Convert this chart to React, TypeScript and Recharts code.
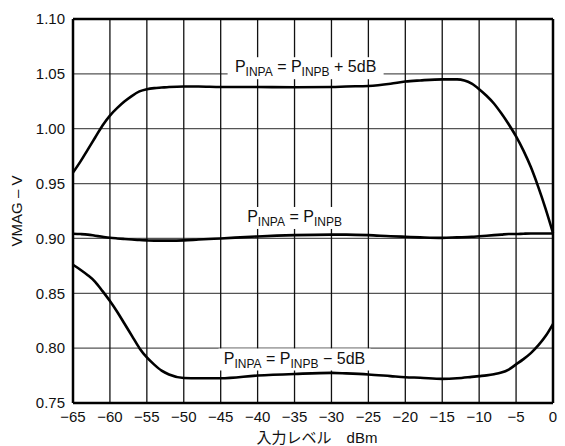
import React from 'react';
import {
  LineChart,
  Line,
  XAxis,
  YAxis,
  CartesianGrid,
  ReferenceLine,
  ReferenceDot,
  Label,
} from 'recharts';

// input level, dBm
const levels = [
  -65, -64, -63, -62, -61, -60, -59, -58, -57, -56, -55, -54, -53, -52, -50, -48, -45, -40, -35, -30,
  -28, -25, -22, -20, -18, -15, -13, -11, -10, -9, -8, -7, -6, -5, -4, -3, -2, -1, 0,
];

// VMAG, V
const vmagPlus5 = [
  0.96, 0.97, 0.981, 0.992, 1.003, 1.012, 1.019, 1.025, 1.03, 1.034, 1.036, 1.037, 1.0375, 1.038,
  1.0385, 1.0385, 1.038, 1.038, 1.0378, 1.038, 1.0385, 1.039, 1.041, 1.043, 1.044, 1.045, 1.045,
  1.041, 1.036, 1.03, 1.023, 1.014, 1.004, 0.993, 0.98, 0.965, 0.947, 0.927, 0.905,
];
const vmagEqual = [
  0.9043, 0.904, 0.9035, 0.9025, 0.9015, 0.9006, 0.9, 0.8995, 0.899, 0.8985, 0.8982, 0.898, 0.898,
  0.898, 0.8982, 0.899, 0.9, 0.9018, 0.903, 0.9035, 0.9035, 0.903, 0.902, 0.9015, 0.901, 0.9005,
  0.901, 0.9015, 0.902, 0.9025, 0.903, 0.9035, 0.904, 0.904, 0.9043, 0.9045, 0.9045, 0.9045, 0.9045,
];
const vmagMinus5 = [
  0.876, 0.8715, 0.8665, 0.8605, 0.852, 0.843, 0.833, 0.822, 0.811, 0.8, 0.7915, 0.785, 0.7795,
  0.776, 0.7728, 0.7725, 0.7725, 0.775, 0.7765, 0.7775, 0.777, 0.776, 0.7745, 0.7735, 0.773, 0.772,
  0.7725, 0.7738, 0.7745, 0.7752, 0.7762, 0.7777, 0.7805, 0.7852, 0.79, 0.7955, 0.8025, 0.811, 0.822,
];

const xTicks = [-65, -60, -55, -50, -45, -40, -35, -30, -25, -20, -15, -10, -5, 0];
const yTicks = [0.75, 0.8, 0.85, 0.9, 0.95, 1.0, 1.05, 1.1];

const data = levels.map((x, i) => ({
  x,
  plus5: vmagPlus5[i],
  equal: vmagEqual[i],
  minus5: vmagMinus5[i],
}));

const FONT = '"Liberation Sans", Arial, "Noto Sans CJK JP", sans-serif';

const curveLabels = [
  { x: -33.5, y: 1.0515, tail: ' + 5dB', w: 156 },
  { x: -35, y: 0.915, tail: '', w: 108 },
  { x: -35, y: 0.786, tail: ' \u2212 5dB', w: 152 },
];

const makeShape = (tail: string, w: number) => (props: any) => {
  const { cx, cy } = props;
  return (
    <g>
      <rect x={cx - w / 2} y={cy - 15} width={w} height={22} fill="#fff" />
      <text x={cx} y={cy} textAnchor="middle" fontFamily={FONT} fontSize={16} fill="#111">
        <tspan>P</tspan>
        <tspan fontSize={12} dy={4}>INPA</tspan>
        <tspan dy={-4}> = P</tspan>
        <tspan fontSize={12} dy={4}>INPB</tspan>
        <tspan dy={-4}>{tail}</tspan>
      </text>
    </g>
  );
};

const App: React.FC = () => {
  return (
    <div style={{ position: 'absolute', left: 0, top: 0, background: '#fff' }}>
      <LineChart
        width={565}
        height={446}
        data={data}
        margin={{ top: 19, right: 12, bottom: 0, left: 0 }}
        style={{ fontFamily: FONT }}
      >
        <CartesianGrid vertical={false} stroke="#555" strokeWidth={1.3} />
        <CartesianGrid horizontal={false} stroke="#111" strokeWidth={1.3} />
        <XAxis
          dataKey="x"
          type="number"
          domain={[-65, 0]}
          ticks={xTicks}
          tickFormatter={(v: number) => (v < 0 ? `\u2212${Math.abs(v)}` : `${v}`)}
          tick={{ fill: '#111', fontSize: 15 }}
          tickLine={false}
          axisLine={false}
          height={43}
          interval={0}
        >
          <Label
            value={'入力レベル　dBm'}
            position="insideBottom"
            offset={3}
            dx={4}
            style={{ fill: '#111', fontSize: 15 }}
          />
        </XAxis>
        <YAxis
          type="number"
          domain={[0.75, 1.1]}
          ticks={yTicks}
          tickFormatter={(v: number) => v.toFixed(2)}
          tick={{ fill: '#111', fontSize: 15 }}
          tickLine={false}
          axisLine={false}
          width={73}
          interval={0}
        >
          <Label
            value={'VMAG \u2013 V'}
            angle={-90}
            position="insideLeft"
            offset={17}
            style={{ fill: '#111', fontSize: 15, textAnchor: 'middle' }}
          />
        </YAxis>
        <ReferenceLine x={-65} stroke="#000" strokeWidth={2.5} />
        <ReferenceLine x={0} stroke="#000" strokeWidth={2.5} />
        <ReferenceLine y={0.75} stroke="#000" strokeWidth={2.5} />
        <ReferenceLine y={1.1} stroke="#000" strokeWidth={2.5} />
        {curveLabels.map((l, i) => (
          <ReferenceDot key={i} x={l.x} y={l.y} r={0} shape={makeShape(l.tail, l.w)} />
        ))}
        <Line type="monotone" dataKey="plus5" stroke="#000" strokeWidth={2.6} dot={false} isAnimationActive={false} />
        <Line type="monotone" dataKey="equal" stroke="#000" strokeWidth={2.6} dot={false} isAnimationActive={false} />
        <Line type="monotone" dataKey="minus5" stroke="#000" strokeWidth={2.6} dot={false} isAnimationActive={false} />
      </LineChart>
    </div>
  );
};

export default App;
